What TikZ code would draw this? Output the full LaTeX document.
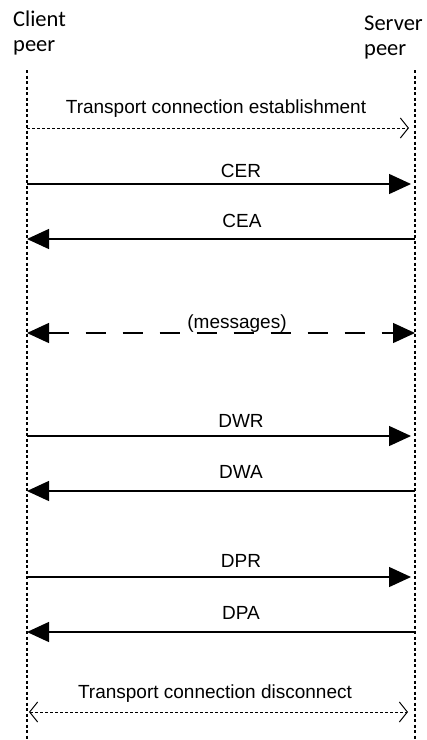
\documentclass[tikz,border=0pt]{standalone}
\usepackage{fontspec}
\setmainfont{Liberation Sans}
\newfontfamily\peerfont{Carlito}
\usetikzlibrary{arrows.meta,positioning}

\begin{document}
\begin{tikzpicture}[x=1pt,y=-1pt,
		lifeline/.style={line width=1.2pt, dash pattern=on 3pt off 2.5pt},
		call/.style={line width=1.4pt, -{Triangle[length=22pt,width=20pt]}},
		bothways/.style={line width=1.4pt, dash pattern=on 20pt off 17pt, {Triangle[length=22pt,width=20pt]}-{Triangle[length=22pt,width=20pt]}},
		transport/.style={line width=1pt, dash pattern=on 3pt off 2pt, -{Straight Barb[length=8pt,width=20pt]}},
		msglabel/.style={anchor=base, inner sep=0pt, font=\fontsize{19}{23}\selectfont},
		peer/.style={anchor=north west, inner sep=0pt, align=left, font=\peerfont\fontsize{22.5}{25}\selectfont}]
		\useasboundingbox (0,0) rectangle (427,740);

		% peers and lifelines
		\node (client) at (13,11) [peer] {Client\\peer};
		\node (server) at (364,16) [peer] {Server\\peer};
		\coordinate (ctop) at (27,70);		\coordinate (cbot) at (27,740);
		\coordinate (stop) at (415,70);		\coordinate (sbot) at (415,740);
		\draw [lifeline] (ctop) -- (cbot);
		\draw [lifeline] (stop) -- (sbot);

		% ends of the messages
		\coordinate (c1) at (27,128);	\coordinate (s1) at (415,128);
		\coordinate (c2) at (27,184);	\coordinate (s2) at (415,184);
		\coordinate (c3) at (27,239);	\coordinate (s3) at (415,239);
		\coordinate (c4) at (27,333);	\coordinate (s4) at (415,333);
		\coordinate (c5) at (27,436);	\coordinate (s5) at (415,436);
		\coordinate (c6) at (27,491);	\coordinate (s6) at (415,491);
		\coordinate (c7) at (27,577);	\coordinate (s7) at (415,577);
		\coordinate (c8) at (27,632);	\coordinate (s8) at (415,632);
		\coordinate (c9) at (27,712);	\coordinate (s9) at (415,712);

		\draw [transport, shorten >=6pt] (c1) -- (s1);
		\node (est) at (216,113) [msglabel] {Transport connection establishment};

		\draw [call, shorten >=4pt] (c2) -- (s2);
		\node (cer) at (241,177) [msglabel] {CER};
		\draw [call] (s3) -- (c3);
		\node (cea) at (242,227) [msglabel] {CEA};

		\draw [bothways] (c4) -- (s4);
		\node (msgs) at (237,328) [msglabel] {(messages)};

		\draw [call, shorten >=4pt] (c5) -- (s5);
		\node (dwr) at (241,427) [msglabel] {DWR};
		\draw [call] (s6) -- (c6);
		\node (dwa) at (241,478) [msglabel] {DWA};

		\draw [call, shorten >=4pt] (c7) -- (s7);
		\node (dpr) at (241,567) [msglabel] {DPR};
		\draw [call] (s8) -- (c8);
		\node (dpa) at (241,619) [msglabel] {DPA};

		\draw [transport, {Straight Barb[length=8pt,width=20pt]}-{Straight Barb[length=8pt,width=20pt]}, shorten >=7pt, shorten <=2pt] (c9) -- (s9);
		\node (disc) at (215,698) [msglabel] {Transport connection disconnect};
	\end{tikzpicture}
\end{document}
